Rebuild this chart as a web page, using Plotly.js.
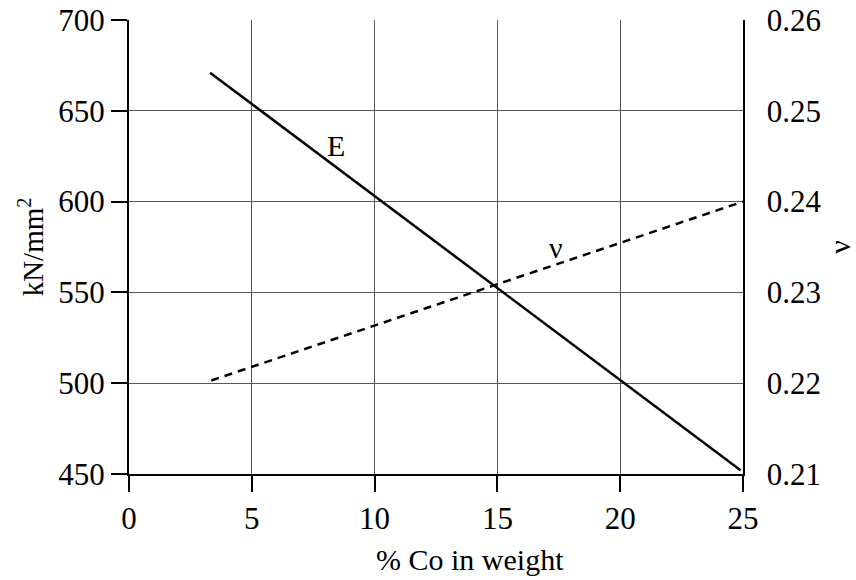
<!DOCTYPE html>
<html><head><meta charset="utf-8">
<script src="https://cdn.plot.ly/plotly-3.0.1.min.js"></script>
<style>html,body{margin:0;padding:0;background:#fff}#chart{width:856px;height:580px}</style>
</head><body><div id="chart"></div>
<script>
// Data
const coWeight = [3.3, 24.9];          // % Co in weight
const modulusE = [671, 452];           // E, kN/mm²
const nuCo = [3.35, 25];               // % Co in weight
const poisson = [0.2203, 0.2400];      // ν
const leftTicks = [450, 500, 550, 600, 650, 700];
const rightTicks = [0.21, 0.22, 0.23, 0.24, 0.25, 0.26];
const xTicks = [0, 5, 10, 15, 20, 25];

const serif = '"Liberation Serif", "Times New Roman", serif';
const traces = [
  {x: coWeight, y: modulusE, mode: 'lines', line: {color: '#000', width: 2.5}, showlegend: false, hoverinfo: 'none'},
  {x: nuCo, y: poisson, yaxis: 'y2', mode: 'lines', line: {color: '#000', width: 2.5, dash: '8px,6px'}, showlegend: false, hoverinfo: 'none'}
];
const layout = {
  width: 856, height: 580,
  margin: {l: 129, r: 113, t: 19.5, b: 106},
  paper_bgcolor: '#fff', plot_bgcolor: '#fff',
  font: {family: serif, size: 30, color: '#000'},
  xaxis: {
    range: [0, 25], tickvals: xTicks, ticktext: xTicks.map(String),
    showgrid: true, gridcolor: '#555', gridwidth: 1, zeroline: false,
    showline: true, linecolor: '#000', linewidth: 2,
    ticks: 'outside', ticklen: 16, tickwidth: 2, tickcolor: '#000',
    tickfont: {family: serif, size: 31}
  },
  yaxis: {
    range: [450, 700], tickvals: leftTicks, ticktext: leftTicks.map(String),
    showgrid: true, gridcolor: '#555', gridwidth: 1, zeroline: false,
    showline: true, linecolor: '#000', linewidth: 2,
    ticks: 'outside', ticklen: 16, tickwidth: 2, tickcolor: '#000',
    tickfont: {family: serif, size: 31},
    title: {text: 'kN/mm<sup>2</sup>', font: {family: serif, size: 29}, standoff: 6}
  },
  yaxis2: {
    overlaying: 'y', side: 'right', anchor: 'x',
    range: [0.21, 0.26], tickvals: rightTicks, ticktext: rightTicks.map(v => v.toFixed(2)),
    showgrid: false, zeroline: false,
    showline: true, linecolor: '#000', linewidth: 1.5,
    ticks: '', ticklabelstandoff: 16,
    tickfont: {family: serif, size: 31},
    title: {text: 'ν', font: {family: serif, size: 30}, standoff: 16}
  },
  annotations: [
    {x: 0.555, y: -0.189, xref: 'paper', yref: 'paper', text: '% Co in weight', showarrow: false,
     xanchor: 'center', yanchor: 'middle', font: {family: serif, size: 30}},
    {x: 8.43, y: 631, xref: 'x', yref: 'y', text: 'E', showarrow: false, font: {family: serif, size: 30}},
    {x: 17.39, y: 0.2350, xref: 'x', yref: 'y2', text: 'ν', showarrow: false, font: {family: serif, size: 30}}
  ]
};
Plotly.newPlot('chart', traces, layout, {staticPlot: true, displayModeBar: false});
</script></body></html>
